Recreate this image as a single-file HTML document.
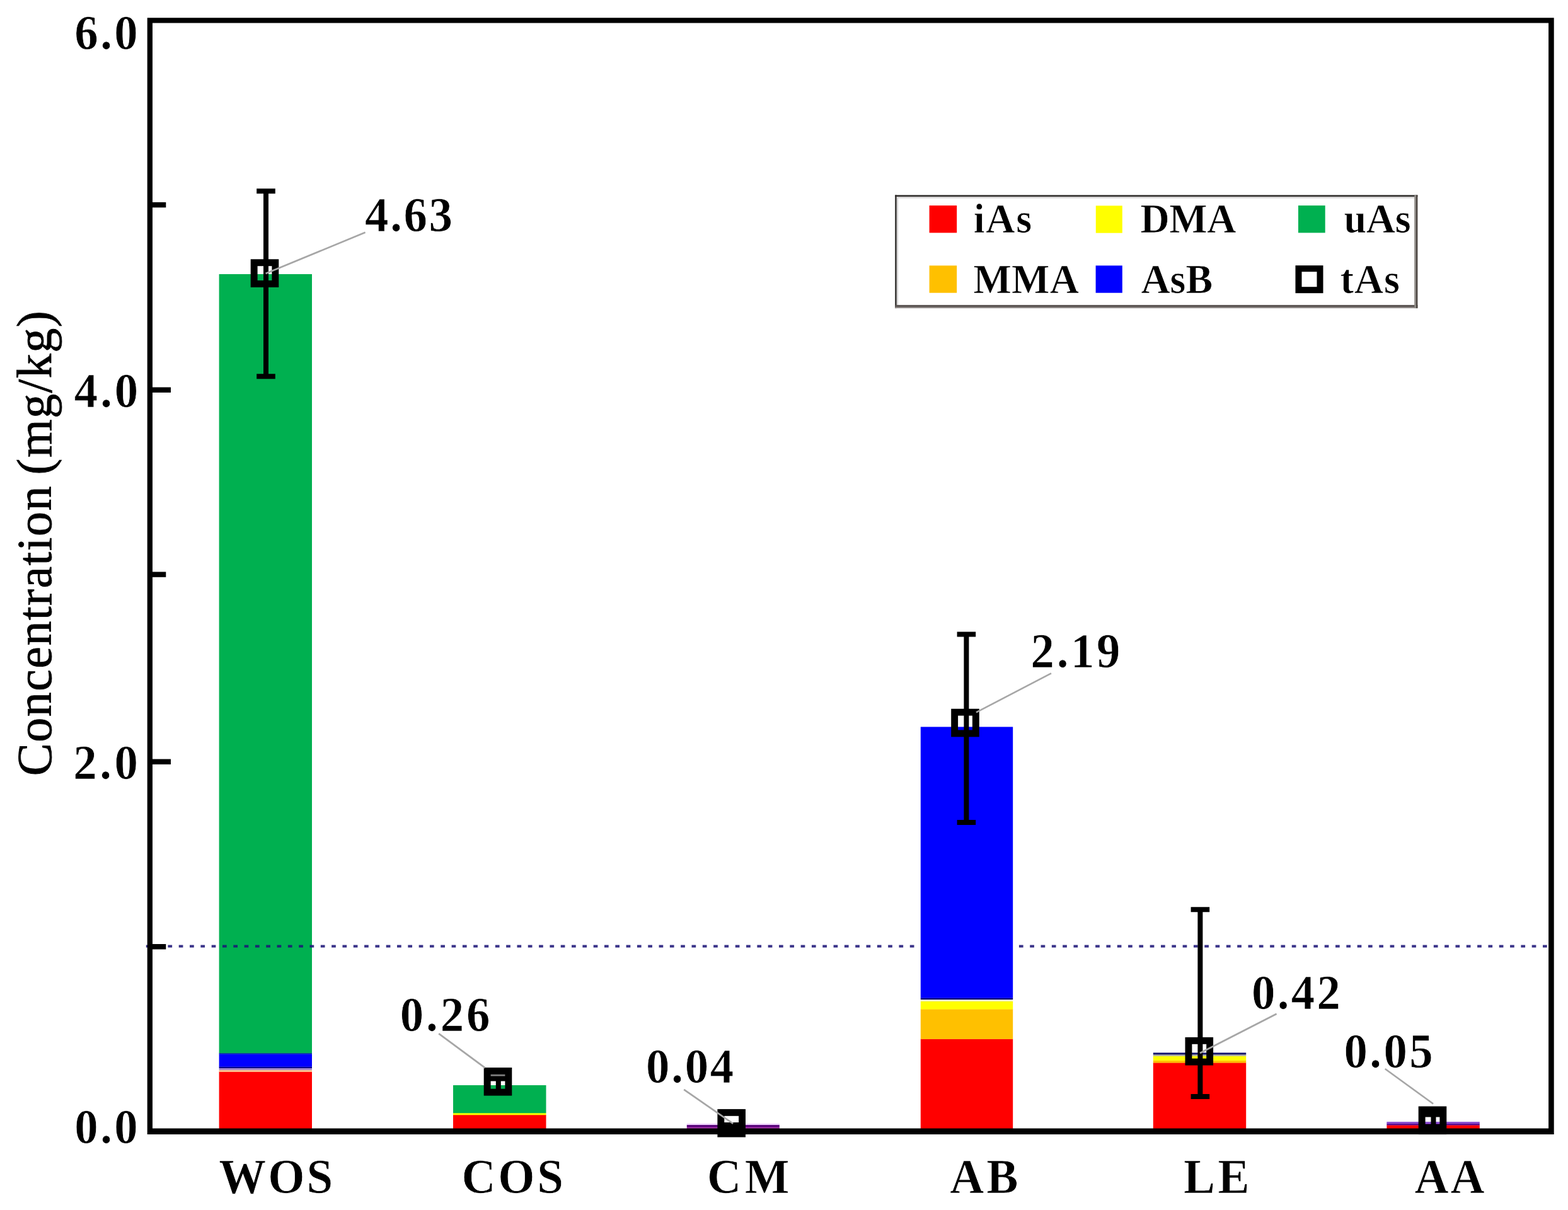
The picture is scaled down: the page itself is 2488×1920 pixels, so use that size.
<!DOCTYPE html>
<html lang="en"><head><meta charset="utf-8"><title>Arsenic species concentration</title>
<style>html,body{margin:0;padding:0;background:#fff}body{width:2488px;height:1920px;overflow:hidden}svg{display:block}text{font-family:"Liberation Serif",serif;fill:#000}.b{font-weight:bold}.t{stroke:#fff;stroke-width:.7px}.y{stroke:#000;stroke-width:.8px}</style>
</head><body>
<svg width="2488" height="1920" viewBox="0 0 2488 1920" role="img" aria-label="Stacked bar chart of arsenic species concentration">
<rect width="2488" height="1920" fill="#fff"/>
<g id="bars">
<rect x="347.6" y="1700.5" width="147.4" height="95.3" fill="#ff0000"/>
<rect x="347.6" y="1697.8" width="147.4" height="3.0" fill="#ffc48c"/>
<rect x="347.6" y="1694.7" width="147.4" height="3.4" fill="#a88cc8"/>
<rect x="347.6" y="1692.4" width="147.4" height="2.6" fill="#00008c"/>
<rect x="347.6" y="1672.4" width="147.4" height="20.3" fill="#0000ff"/>
<rect x="347.6" y="1670.6" width="147.4" height="2.1" fill="#0030a0"/>
<rect x="347.6" y="435.0" width="147.4" height="1235.9" fill="#00b050"/>
<rect x="719.0" y="1769.0" width="147.5" height="26.8" fill="#ff0000"/>
<rect x="719.0" y="1766.0" width="147.5" height="3.3" fill="#ffff00"/>
<rect x="719.0" y="1722.0" width="147.5" height="44.3" fill="#00b050"/>
<rect x="1089.8" y="1788.0" width="147.0" height="7.8" fill="#a030a8"/>
<rect x="1089.8" y="1784.8" width="147.0" height="3.5" fill="#560078"/>
<rect x="1089.8" y="1782.6" width="147.0" height="2.5" fill="#f0d4ff"/>
<rect x="1460.8" y="1648.5" width="146.4" height="147.3" fill="#ff0000"/>
<rect x="1460.8" y="1601.2" width="146.4" height="47.6" fill="#ffc000"/>
<rect x="1460.8" y="1588.7" width="146.4" height="12.8" fill="#ffff00"/>
<rect x="1460.8" y="1585.8" width="146.4" height="3.2" fill="#eeeecc"/>
<rect x="1460.8" y="1583.3" width="146.4" height="2.8" fill="#00007a"/>
<rect x="1460.8" y="1153.4" width="146.4" height="430.2" fill="#0000ff"/>
<rect x="1829.8" y="1686.2" width="147.4" height="109.6" fill="#ff0000"/>
<rect x="1829.8" y="1682.5" width="147.4" height="4.0" fill="#ffc000"/>
<rect x="1829.8" y="1675.5" width="147.4" height="7.3" fill="#ffff00"/>
<rect x="1829.8" y="1673.0" width="147.4" height="2.8" fill="#b0b0a0"/>
<rect x="1829.8" y="1670.4" width="147.4" height="2.9" fill="#14146e"/>
<rect x="2200.4" y="1785.2" width="147.4" height="10.6" fill="#ff0000"/>
<rect x="2200.4" y="1782.6" width="147.4" height="2.9" fill="#5a0a90"/>
<rect x="2200.4" y="1780.0" width="147.4" height="2.9" fill="#8a50d0"/>
</g>
<g id="limit" stroke="#1c1478" stroke-opacity="0.88" stroke-width="4" stroke-dasharray="6.7 10.614">
<line x1="231.8" y1="1501.4" x2="1460.8" y2="1501.4"/>
<line x1="1607.2" y1="1501.4" x2="2460" y2="1501.4" stroke-dashoffset="7.594"/>
</g>
<path id="frame" fill="#000" fill-rule="evenodd" d="M233.7 28.2H2465.7V1800H233.7ZM242 36.6V1790.4H2457.1V36.6Z"/>
<g id="ticks" stroke="#000" stroke-width="8.4">
<line x1="241.5" y1="325.1" x2="263.3" y2="325.1"/>
<line x1="241.5" y1="618.7" x2="271.0" y2="618.7"/>
<line x1="241.5" y1="911.6" x2="263.3" y2="911.6"/>
<line x1="241.5" y1="1208.7" x2="271.0" y2="1208.7"/>
<line x1="241.5" y1="1502.2" x2="263.3" y2="1502.2"/>
</g>
<g id="errorbars" fill="none" stroke="#000" stroke-width="8">
<path d="M422.0 303.2V597.2M407.2 303.2h29.6M407.2 597.2h29.6"/>
<path d="M790.8 1711.6V1733.0M776.0 1711.6h29.6M776.0 1733.0h29.6"/>
<path d="M1161.5 1785.0V1790.0M1146.7 1785.0h29.6M1146.7 1790.0h29.6"/>
<path d="M1533.4 1006.6V1305.0M1518.6 1006.6h29.6M1518.6 1305.0h29.6"/>
<path d="M1904.4 1443.2V1740.0M1889.6 1443.2h29.6M1889.6 1740.0h29.6"/>
<path d="M2274.5 1768.6V1788.0M2259.7 1768.6h29.6M2259.7 1788.0h29.6"/>
</g>
<g id="markers" fill="none" stroke="#000" stroke-width="10.9">
<rect x="403.15" y="416.75" width="33.7" height="33.7"/>
<rect x="773.15" y="1699.45" width="33.7" height="33.7"/>
<rect x="1143.85" y="1765.35" width="33.7" height="33.7"/>
<rect x="1514.65" y="1130.15" width="33.7" height="33.7"/>
<rect x="1885.95" y="1651.35" width="33.7" height="33.7"/>
<rect x="2256.15" y="1760.95" width="33.7" height="33.7"/>
</g>
<rect x="777" y="1704.6" width="27.6" height="3.2" fill="#000" fill-opacity="0.5"/>
<g id="leaders" stroke="#a6a6a6" stroke-width="2.7">
<line x1="421.6" y1="434.0" x2="579.6" y2="368.8"/>
<line x1="769.6" y1="1694.4" x2="696.2" y2="1640.2"/>
<line x1="1163.2" y1="1783.0" x2="1085.2" y2="1728.8"/>
<line x1="1549.0" y1="1130.4" x2="1668.0" y2="1068.4"/>
<line x1="1904.0" y1="1671.0" x2="2025.6" y2="1608.7"/>
<line x1="2274.1" y1="1751.5" x2="2197.7" y2="1696.0"/>
</g>
<g id="legend">
<rect x="1420.2" y="309.5" width="829.2" height="179.6" fill="#fff"/>
<rect x="1420.2" y="309.5" width="829.2" height="2.5" fill="#2e2c2a"/>
<rect x="1422.8" y="312.0" width="821.4" height="2.5" fill="#d2d0d0"/>
<rect x="1420.2" y="309.5" width="2.6" height="179.6" fill="#2e2c2a"/>
<rect x="1422.8" y="312.0" width="2.4" height="171.9" fill="#d8d6d6"/>
<rect x="1420.2" y="483.9" width="829.2" height="3.1" fill="#5a5452"/>
<rect x="1420.2" y="487.0" width="829.2" height="2.1" fill="#8e8886"/>
<rect x="2244.2" y="309.5" width="2.8" height="179.6" fill="#8e8a86"/>
<rect x="2247.0" y="309.5" width="2.4" height="179.6" fill="#4a4440"/>
<rect x="1474.6" y="326.1" width="43.6" height="43.3" fill="#ff0000"/>
<rect x="1474.6" y="421.4" width="43.6" height="43.3" fill="#ffc000"/>
<rect x="1738.8" y="326.4" width="42.0" height="43.3" fill="#ffff00"/>
<rect x="1738.6" y="421.4" width="42.2" height="43.3" fill="#0000ff"/>
<rect x="2060.0" y="326.1" width="42.7" height="43.3" fill="#00b050"/>
<rect x="2060.5" y="426.2" width="34" height="34" fill="#fff" stroke="#000" stroke-width="10"/>
</g>
<g id="labels" class="b">
<text class="t" transform="translate(118.2 78.05) scale(0.96 1)" font-size="78" letter-spacing="3.65">6.0</text>
<text class="t" transform="translate(117.85 645.95) scale(0.96 1)" font-size="78" letter-spacing="4.01">4.0</text>
<text class="t" transform="translate(116.15 1235.95) scale(0.96 1)" font-size="78" letter-spacing="4.74">2.0</text>
<text class="t" transform="translate(118.2 1813.6) scale(0.96 1)" font-size="78" letter-spacing="3.65">0.0</text>
<text class="t" transform="translate(347.25 1892.5) scale(0.96 1)" font-size="78" letter-spacing="3.18">WOS</text>
<text class="t" transform="translate(732.5 1893.0) scale(0.96 1)" font-size="78" letter-spacing="3.85">COS</text>
<text class="t" transform="translate(1122.0 1892.9) scale(0.96 1)" font-size="78" letter-spacing="5.83">CM</text>
<text class="t" transform="translate(1507.35 1893.2) scale(0.96 1)" font-size="78" letter-spacing="4.27">AB</text>
<text class="t" transform="translate(1878.05 1893.2) scale(0.96 1)" font-size="78" letter-spacing="4.69">LE</text>
<text class="t" transform="translate(2244.45 1893.0) scale(0.96 1)" font-size="78" letter-spacing="3.23">AA</text>
<text class="t" transform="translate(579.1 366.85) scale(0.96 1)" font-size="78" letter-spacing="2.71">4.63</text>
<text class="t" transform="translate(634.7 1635.55) scale(0.96 1)" font-size="78" letter-spacing="4.1">0.26</text>
<text class="t" transform="translate(1024.95 1718.05) scale(0.96 1)" font-size="78" letter-spacing="2.88">0.04</text>
<text class="t" transform="translate(1635.6 1059.15) scale(0.96 1)" font-size="78" letter-spacing="3.75">2.19</text>
<text class="t" transform="translate(1986.1 1600.9) scale(0.96 1)" font-size="78" letter-spacing="3.4">0.42</text>
<text class="t" transform="translate(2132.45 1693.7) scale(0.96 1)" font-size="78" letter-spacing="3.58">0.05</text>
<text class="t" transform="translate(1544.65 369.4) scale(0.97 1)" font-size="66" letter-spacing="1.8">iAs</text>
<text class="t" transform="translate(1544.55 464.7) scale(0.97 1)" font-size="66" letter-spacing="0.15">MMA</text>
<text class="t" transform="translate(1809.6 369.4) scale(0.97 1)" font-size="66" letter-spacing="-0.52">DMA</text>
<text class="t" transform="translate(1810.5 464.7) scale(0.97 1)" font-size="66" letter-spacing="-0.1">AsB</text>
<text class="t" transform="translate(2132.55 369.4) scale(0.97 1)" font-size="66" letter-spacing="-0.36">uAs</text>
<text class="t" transform="translate(2126.85 464.7) scale(0.97 1)" font-size="66" letter-spacing="0.77">tAs</text>
</g>
<text class="y" transform="translate(80.7 1231.35) rotate(-90)" font-size="78" letter-spacing="1.5" word-spacing="-4.6">Concentration (mg/kg)</text>
</svg>
</body></html>
